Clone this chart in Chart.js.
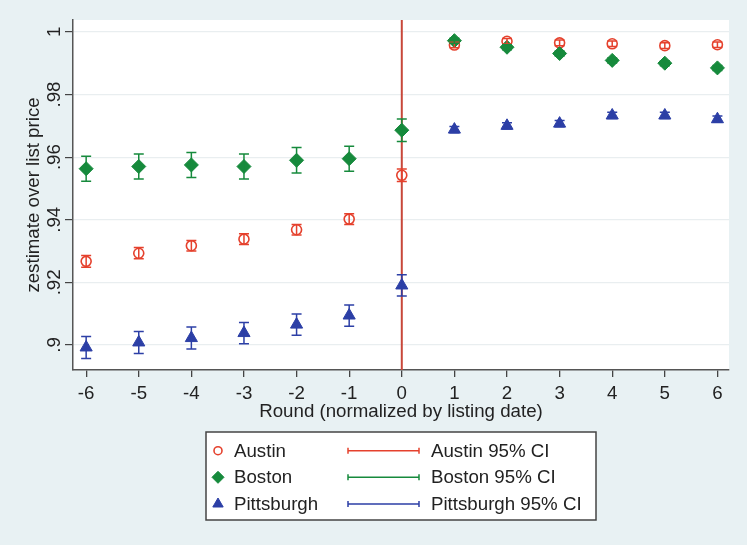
<!doctype html>
<html lang="en">
<head>
<meta charset="utf-8">
<script src="https://cdn.jsdelivr.net/npm/chart.js"></script>
<style>
    html, body { margin: 0; padding: 0; background: #e8f1f3; }
    #wrap { width: 747px; height: 545px; }
</style>
</head>
<body>
<div id="wrap"><canvas id="plot" width="747" height="545"></canvas></div>
<script>
    // values
    const rounds = [-6, -5, -4, -3, -2, -1, 0, 1, 2, 3, 4, 5, 6];
    const austin = [0.9267, 0.9293, 0.9317, 0.9338, 0.9368, 0.9402, 0.9542, 0.9958, 0.9970, 0.9965, 0.9962, 0.9956, 0.9959];
    const boston = [0.9563, 0.9570, 0.9575, 0.9570, 0.9590, 0.9595, 0.9686, 0.9972, 0.9951, 0.9931, 0.9909, 0.9900, 0.9885];
    const pittsburgh = [0.8992, 0.9008, 0.9022, 0.9038, 0.9065, 0.9094, 0.9190, 0.9688, 0.9700, 0.9707, 0.9733, 0.9733, 0.9721];
    // half width of the 95% CI
    const austinCI = [0.0019, 0.0018, 0.0017, 0.0017, 0.0017, 0.0017, 0.0020, 0.0009, 0.0009, 0.0009, 0.0009, 0.0009, 0.0009];
    const bostonCI = [0.0040, 0.0040, 0.0040, 0.0040, 0.0041, 0.0040, 0.0036, 0.0008, 0.0008, 0.0008, 0.0008, 0.0008, 0.0008];
    const pittsburghCI = [0.0035, 0.0035, 0.0035, 0.0034, 0.0034, 0.0034, 0.0034, 0.0010, 0.0010, 0.0010, 0.0010, 0.0010, 0.0010];
    const xTicks = [-6, -5, -4, -3, -2, -1, 0, 1, 2, 3, 4, 5, 6];
    const yTicks = [0.9, 0.92, 0.94, 0.96, 0.98, 1];

    const FONT = "'Liberation Sans', Arial, sans-serif";
    const FS = 18.7;
    Chart.defaults.font.family = FONT;
    Chart.defaults.font.size = FS;
    Chart.defaults.color = '#222';

    const RED = '#e5412d', GREEN = '#168a3c', BLUE = '#2c3fa6';

    function pts(vals) {
        return rounds.map((r, i) => ({ x: r, y: vals[i] }));
    }

    const yLabel = v => (v === 1 ? '1' : String(v).replace(/^0/, ''));

    // plot region, red line at 0, error bars, rotated y labels, legend
    const stataBits = {
        id: 'stataBits',
        beforeDraw(chart) {
            const { ctx, chartArea: a } = chart;
            ctx.save();
            ctx.fillStyle = '#ffffff';
            ctx.fillRect(a.left, a.top, a.right - a.left, a.bottom - a.top);
            ctx.restore();
        },
        beforeDatasetsDraw(chart) {
            const { ctx, chartArea: a, scales: { x } } = chart;
            ctx.save();
            ctx.strokeStyle = '#c8473a';
            ctx.lineWidth = 2;
            ctx.beginPath();
            const px = x.getPixelForValue(0);
            ctx.moveTo(px, a.top);
            ctx.lineTo(px, a.bottom);
            ctx.stroke();
            ctx.restore();
        },
        afterDatasetsDraw(chart) {
            const { ctx, scales: { x, y } } = chart;
            ctx.save();
            chart.data.datasets.forEach(ds => {
                ctx.strokeStyle = ds.borderColor;
                ctx.lineWidth = 1.5;
                ds.data.forEach((p, i) => {
                    const px = x.getPixelForValue(p.x);
                    const lo = y.getPixelForValue(p.y - ds.ci[i]);
                    const hi = y.getPixelForValue(p.y + ds.ci[i]);
                    ctx.beginPath();
                    ctx.moveTo(px, lo); ctx.lineTo(px, hi);
                    ctx.moveTo(px - 5, lo); ctx.lineTo(px + 5, lo);
                    ctx.moveTo(px - 5, hi); ctx.lineTo(px + 5, hi);
                    ctx.stroke();
                });
            });
            ctx.restore();
        },
        afterDraw(chart) {
            const { ctx, scales: { y } } = chart;
            ctx.save();
            ctx.fillStyle = '#222';
            ctx.font = FS + 'px ' + FONT;
            ctx.textAlign = 'center';
            ctx.textBaseline = 'alphabetic';
            yTicks.forEach(v => {
                ctx.save();
                ctx.translate(60, y.getPixelForValue(v));
                ctx.rotate(-Math.PI / 2);
                ctx.fillText(yLabel(v), 0, 0);
                ctx.restore();
            });

            // legend
            const bx = 206, by = 432, bw = 390, bh = 88;
            ctx.fillStyle = '#ffffff';
            ctx.fillRect(bx, by, bw, bh);
            ctx.strokeStyle = '#444';
            ctx.lineWidth = 1.5;
            ctx.strokeRect(bx, by, bw, bh);
            const rows = [450.7, 477.3, 504];
            const legendRadius = [4, 6, 6];
            ctx.textAlign = 'left';
            ctx.textBaseline = 'middle';
            chart.data.datasets.forEach((ds, i) => {
                const ry = rows[i];
                ctx.fillStyle = ds.pointBackgroundColor;
                ctx.strokeStyle = ds.borderColor;
                ctx.lineWidth = ds.borderWidth;
                Chart.helpers.drawPoint(ctx, {
                    pointStyle: ds.pointStyle, radius: legendRadius[i], borderWidth: ds.borderWidth
                }, 218, ry);
                ctx.fillStyle = '#222';
                ctx.fillText(ds.label, 234, ry + 1);

                ctx.strokeStyle = ds.borderColor;
                ctx.lineWidth = 1.5;
                ctx.beginPath();
                ctx.moveTo(348, ry); ctx.lineTo(419, ry);
                ctx.moveTo(348, ry - 3); ctx.lineTo(348, ry + 3);
                ctx.moveTo(419, ry - 3); ctx.lineTo(419, ry + 3);
                ctx.stroke();
                ctx.fillStyle = '#222';
                ctx.fillText(ds.label + ' 95% CI', 431, ry + 1);
            });
            ctx.restore();
        }
    };

    const config = {
        type: 'scatter',
        data: {
            datasets: [
                {
                    label: 'Austin',
                    data: pts(austin),
                    ci: austinCI,
                    pointStyle: 'circle',
                    radius: 5,
                    borderWidth: 1.6,
                    borderColor: RED,
                    pointBackgroundColor: 'rgba(0,0,0,0)',
                    backgroundColor: 'rgba(0,0,0,0)',
                    order: 1
                },
                {
                    label: 'Boston',
                    data: pts(boston),
                    ci: bostonCI,
                    pointStyle: 'rectRot',
                    radius: 7,
                    borderWidth: 1,
                    borderColor: GREEN,
                    pointBackgroundColor: GREEN,
                    backgroundColor: GREEN,
                    order: 0
                },
                {
                    label: 'Pittsburgh',
                    data: pts(pittsburgh),
                    ci: pittsburghCI,
                    pointStyle: 'triangle',
                    radius: 7,
                    borderWidth: 1,
                    borderColor: BLUE,
                    pointBackgroundColor: BLUE,
                    backgroundColor: BLUE,
                    order: 2
                }
            ]
        },
        options: {
            responsive: false,
            animation: false,
            devicePixelRatio: 1,
            layout: { padding: { left: 10, top: 20, right: 18, bottom: 115 } },
            plugins: { legend: { display: false }, tooltip: { enabled: false } },
            scales: {
                x: {
                    type: 'linear',
                    min: -6.25,
                    max: 6.22,
                    afterBuildTicks: s => { s.ticks = xTicks.map(v => ({ value: v })); },
                    afterFit: s => { s.height = 60; },
                    ticks: { maxRotation: 0, autoSkip: false, padding: 6, color: '#222' },
                    grid: { drawOnChartArea: false, tickLength: 7, tickColor: '#444', lineWidth: 1.3 },
                    border: { display: true, color: '#555', width: 1.5 },
                    title: {
                        display: true,
                        text: 'Round (normalized by listing date)',
                        color: '#222',
                        font: { size: FS },
                        padding: { top: 0, bottom: 7 }
                    }
                },
                y: {
                    type: 'linear',
                    min: 0.892,
                    max: 1.0038,
                    afterBuildTicks: s => { s.ticks = yTicks.map(v => ({ value: v })); },
                    afterFit: s => { s.width = 63; },
                    ticks: { display: false },
                    grid: { color: '#e9eef0', tickLength: 8, tickColor: '#444', lineWidth: 1.2 },
                    border: { display: true, color: '#555', width: 1.5 },
                    title: {
                        display: true,
                        text: 'zestimate over list price',
                        color: '#222',
                        font: { size: FS },
                        padding: { top: 13, bottom: 0 }
                    }
                }
            }
        },
        plugins: [stataBits]
    };

    new Chart(document.getElementById('plot'), config);
</script>
</body>
</html>
